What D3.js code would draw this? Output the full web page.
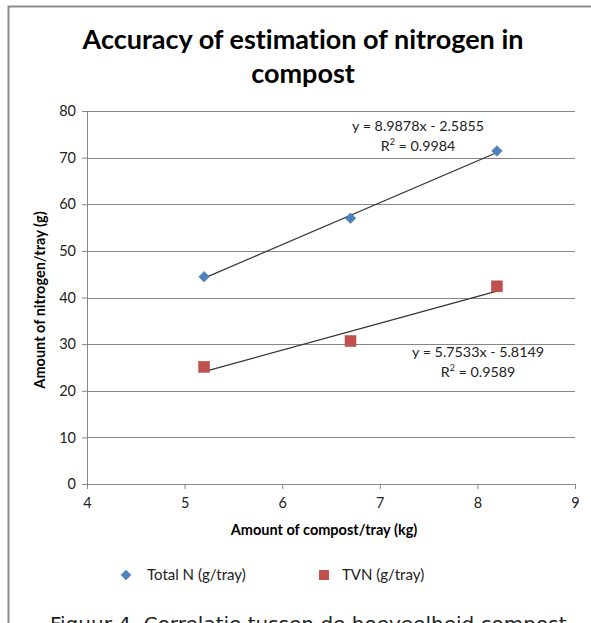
<!DOCTYPE html>
<html><head><meta charset="utf-8">
<script src="https://cdn.jsdelivr.net/npm/d3@7/dist/d3.min.js"></script>
<style>body{margin:0;background:#fff;}svg{display:block;}text{font-variant-ligatures:none;}</style>
</head><body>
<script>
const compost = [5.2, 6.7, 8.2];
const totalN = [44.46, 57.01, 71.43];
const tvn = [25.13, 30.67, 42.39];
const xTicks = [4, 5, 6, 7, 8, 9];
const yTicks = [0, 10, 20, 30, 40, 50, 60, 70, 80];
const fits = [
  {name: "Total N (g/tray)", slope: 8.9878, intercept: -2.5855, eq: "y = 8.9878x - 2.5855", r2: "0.9984"},
  {name: "TVN (g/tray)", slope: 5.7533, intercept: -5.8149, eq: "y = 5.7533x - 5.8149", r2: "0.9589"}
];

const W = 591, H = 623;
const svg = d3.select("body").append("svg").attr("width", W).attr("height", H);
const x = d3.scaleLinear().domain([4, 9]).range([87, 575]);
const y = d3.scaleLinear().domain([0, 80]).range([484, 111]);
const font = "Lato, 'Open Sans', sans-serif";

// frame
svg.append("path").attr("d", `M8.5,${H} V6.5 H${W}`).attr("fill", "none").attr("stroke", "#8c8c8c").attr("stroke-width", 2);

// title
const title = svg.append("text").attr("text-anchor", "middle").attr("font-family", font)
  .attr("font-weight", "bold").attr("font-size", 27).attr("fill", "#000");
title.append("tspan").attr("x", 303).attr("y", 49).text("Accuracy of estimation of nitrogen in");
title.append("tspan").attr("x", 303).attr("y", 83).text("compost");

// gridlines
svg.append("g").selectAll("line").data(yTicks.filter(d => d > 0)).join("line")
  .attr("x1", x(4)).attr("x2", x(9)).attr("y1", d => Math.round(y(d)) + 0.5).attr("y2", d => Math.round(y(d)) + 0.5)
  .attr("stroke", "#878787").attr("stroke-width", 1);

// axes
const yAxis = svg.append("g").attr("transform", `translate(${x(4)},0)`)
  .call(d3.axisLeft(y).tickValues(yTicks).tickFormat(d3.format("d")).tickSize(5).tickPadding(6));
const xAxis = svg.append("g").attr("transform", `translate(0,${y(0)})`)
  .call(d3.axisBottom(x).tickValues(xTicks).tickFormat(d3.format("d")).tickSize(5).tickPadding(9));
[yAxis, xAxis].forEach(g => {
  g.selectAll("path,line").attr("stroke", "#878787");
  g.selectAll("text").attr("font-family", font).attr("font-size", 14.5).attr("fill", "#222");
});

// axis titles
svg.append("text").attr("x", 324).attr("y", 535).attr("text-anchor", "middle")
  .attr("font-family", font).attr("font-weight", "bold").attr("font-size", 14.5).attr("fill", "#000")
  .text("Amount of compost/tray (kg)");
svg.append("text").attr("transform", "translate(45,300) rotate(-90)").attr("text-anchor", "middle")
  .attr("font-family", font).attr("font-weight", "bold").attr("font-size", 14.5).attr("fill", "#000")
  .text("Amount of nitrogen/tray (g)");

// trendlines
const xmin = d3.min(compost), xmax = d3.max(compost);
svg.append("g").selectAll("line").data(fits).join("line")
  .attr("x1", x(xmin)).attr("x2", x(xmax))
  .attr("y1", d => y(d.slope * xmin + d.intercept)).attr("y2", d => y(d.slope * xmax + d.intercept))
  .attr("stroke", "#333").attr("stroke-width", 1.2);

// markers
const diamond = d3.symbol().type(d3.symbolSquare).size(56);
svg.append("g").selectAll("path").data(compost.map((c, i) => [c, totalN[i]])).join("path")
  .attr("d", diamond).attr("transform", d => `translate(${x(d[0])},${y(d[1])}) rotate(45)`)
  .attr("fill", "#4F81BD").attr("stroke", "#3f6fa8").attr("stroke-width", 0.5);
svg.append("g").selectAll("rect").data(compost.map((c, i) => [c, tvn[i]])).join("rect")
  .attr("x", d => x(d[0]) - 5.5).attr("y", d => y(d[1]) - 5.5).attr("width", 11).attr("height", 11)
  .attr("fill", "#C0504D").attr("stroke", "#b44a47").attr("stroke-width", 0.5);

// equations
const eqPos = [[418, 131, 151], [478, 357, 377]];
fits.forEach((f, i) => {
  const [cx, y1, y2] = eqPos[i];
  svg.append("text").attr("x", cx).attr("y", y1).attr("text-anchor", "middle")
    .attr("font-family", font).attr("font-size", 14.3).attr("fill", "#222").text(f.eq);
  const t = svg.append("text").attr("x", cx).attr("y", y2).attr("text-anchor", "middle")
    .attr("font-family", font).attr("font-size", 14.3).attr("fill", "#222");
  t.append("tspan").text("R");
  t.append("tspan").attr("dy", -6).attr("font-size", 9).text("2");
  t.append("tspan").attr("dy", 6).text(" = " + f.r2);
});

// legend
const lg = svg.append("g");
lg.append("path").attr("d", diamond).attr("transform", "translate(126,575) rotate(45)").attr("fill", "#4F81BD");
lg.append("text").attr("x", 147).attr("y", 580).attr("font-family", font).attr("font-size", 15).attr("fill", "#222").text(fits[0].name);
lg.append("rect").attr("x", 319).attr("y", 570).attr("width", 10).attr("height", 10).attr("fill", "#C0504D");
lg.append("text").attr("x", 342).attr("y", 580).attr("font-family", font).attr("font-size", 15).attr("fill", "#222").text(fits[1].name);

// caption (cut off by page bottom, as in the reference)
svg.append("text").attr("x", 50).attr("y", 631).attr("font-family", "'DejaVu Sans', sans-serif")
  .attr("font-size", 20).attr("fill", "#222").text("Figuur 4. Correlatie tussen de hoeveelheid compost");
</script>
</body></html>
